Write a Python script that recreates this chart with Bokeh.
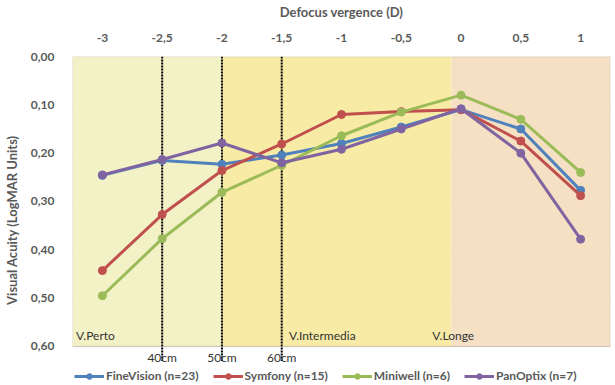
from bokeh.plotting import figure
from bokeh.models import (Range1d, FixedTicker, BoxAnnotation,
                          Legend, LegendItem, ColumnDataSource)
from bokeh.core.properties import value
from bokeh.embed import file_html
from bokeh.resources import INLINE

# ---- data ----
vergence = [-3, -2.5, -2, -1.5, -1, -0.5, 0, 0.5, 1]
vergence_labels = ["-3", "-2,5", "-2", "-1,5", "-1", "-0,5", "0", "0,5", "1"]
finevision = [0.246, 0.215, 0.223, 0.204, 0.180, 0.146, 0.110, 0.150, 0.277]
symfony = [0.443, 0.327, 0.236, 0.181, 0.120, 0.114, 0.110, 0.175, 0.288]
miniwell = [0.495, 0.377, 0.281, 0.225, 0.164, 0.115, 0.080, 0.130, 0.240]
panoptix = [0.245, 0.213, 0.179, 0.220, 0.192, 0.150, 0.108, 0.200, 0.378]
series_names = ["FineVision (n=23)", "Symfony (n=15)", "Miniwell (n=6)", "PanOptix (n=7)"]
series_colors = ["#4f81bd", "#c0504d", "#9bbb59", "#8064a2"]

y_ticks = [0.0, 0.1, 0.2, 0.3, 0.4, 0.5, 0.6]
y_labels = ["0,00", "0,10", "0,20", "0,30", "0,40", "0,50", "0,60"]

distance_ticks = [-2.5, -2.0, -1.5]
distance_labels = ["40cm", "50cm", "60cm"]

zone_bounds = [-3.25, -2.0, -0.08, 1.25]
zone_colors = ["#f3f2c6", "#f8eba6", "#f5e0c4"]
zone_names = ["V.Perto", "V.Intermedia", "V.Longe"]
zone_label_x = [-3.22, -1.44, -0.24]

grey = "#595959"
font = "Lato"
y_min, y_max = 0.0, 0.6
y_extra = 0.0766  # room below the plot area for distance labels + legend

p = figure(frame_width=538, frame_height=327, output_backend="svg", toolbar_location=None,
           x_range=Range1d(-3.25, 1.25), y_range=Range1d(y_max + y_extra, y_min),
           x_axis_location="above", min_border_left=16, min_border_right=3,
           min_border_top=15, min_border_bottom=0)
p.background_fill_color = None
p.border_fill_color = "white"
p.outline_line_color = None

# zones
for i in range(3):
    p.add_layout(BoxAnnotation(left=zone_bounds[i], right=zone_bounds[i + 1],
                               top=y_min, bottom=y_max,
                               fill_color=zone_colors[i], fill_alpha=1.0,
                               line_color=None, level="underlay"))

# grid
p.xgrid.visible = False
p.ygrid.ticker = FixedTicker(ticks=y_ticks)
p.ygrid.grid_line_color = "#d9c9d6"
p.ygrid.grid_line_width = 1.2

# plot-area border
p.add_layout(BoxAnnotation(left=zone_bounds[0], right=zone_bounds[-1], top=y_min, bottom=y_max,
                           fill_alpha=0, line_color="#a89a9a", line_width=1.5))

# top axis
xa = p.xaxis[0]
xa.ticker = FixedTicker(ticks=vergence)
xa.major_label_overrides = {v: l for v, l in zip(vergence, vergence_labels)}
xa.axis_label = "Defocus vergence (D)"
xa.axis_label_text_font = font
xa.axis_label_text_font_style = "bold"
xa.axis_label_text_font_size = "13px"
xa.axis_label_text_color = grey
xa.axis_label_standoff = 11
xa.major_label_text_font = font
xa.major_label_text_font_style = "bold"
xa.major_label_text_font_size = "12px"
xa.major_label_text_color = grey
xa.major_label_standoff = 9
xa.axis_line_color = None
xa.major_tick_line_color = None
xa.minor_tick_line_color = None

# left axis
ya = p.yaxis[0]
ya.ticker = FixedTicker(ticks=y_ticks)
ya.major_label_overrides = {v: l for v, l in zip(y_ticks, y_labels)}
ya.axis_label = "Visual Acuity (LogMAR Units)"
ya.axis_label_text_font = font
ya.axis_label_text_font_style = "bold"
ya.axis_label_text_font_size = "13px"
ya.axis_label_text_color = grey
ya.axis_label_standoff = 8
ya.major_label_text_font = font
ya.major_label_text_font_style = "bold"
ya.major_label_text_font_size = "12px"
ya.major_label_text_color = grey
ya.major_label_standoff = 12
ya.axis_line_color = None
ya.major_tick_line_color = None
ya.minor_tick_line_color = None

# dotted distance lines (extend slightly below the plot area, through the labels)
p.segment(x0=distance_ticks, y0=[y_min] * 3, x1=distance_ticks, y1=[y_max + 0.03] * 3,
          line_color="black", line_width=2, line_dash="2 1")

# distance labels
p.text(x=distance_ticks, y=[y_max + 0.023] * 3, text=distance_labels,
       text_font=value(font), text_font_size="12px", text_color="#333333",
       text_baseline="middle", text_align="center")

# zone labels
p.text(x=zone_label_x, y=[0.592] * 3, text=zone_names,
       text_font=value(font), text_font_size="12px", text_color="#333333",
       text_baseline="bottom", text_align="left")

# series
items = []
for name, vals, col in zip(series_names, [finevision, symfony, miniwell, panoptix], series_colors):
    src = ColumnDataSource(dict(x=vergence, y=vals))
    r1 = p.line("x", "y", source=src, line_color=col, line_width=3)
    r2 = p.scatter("x", "y", source=src, size=8, fill_color=col, line_color=col)
    items.append(LegendItem(label=name, renderers=[r1, r2]))

legend = Legend(items=items, orientation="horizontal", location=(2, 0),
                label_text_font=font, label_text_font_size="12px",
                label_text_font_style="bold", label_text_color=grey,
                glyph_width=30, glyph_height=14, label_height=14,
                spacing=14, padding=0, margin=0, label_standoff=2,
                border_line_color=None, background_fill_alpha=0)
p.add_layout(legend, "center")

open("out.html", "w").write(file_html(p, INLINE))
